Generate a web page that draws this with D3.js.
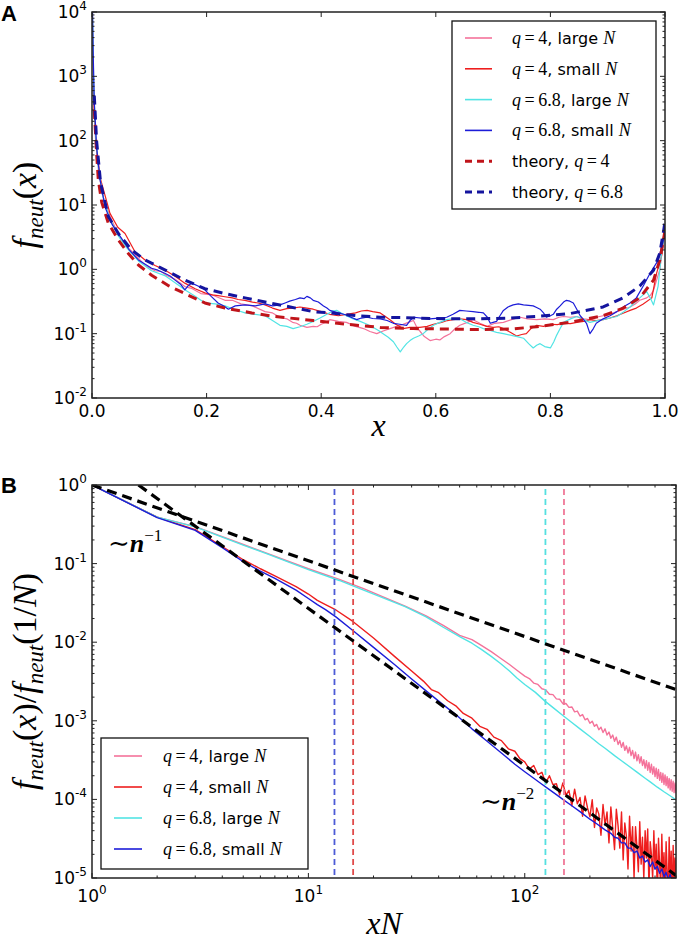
<!DOCTYPE html>
<meta charset="utf-8" />
<style>
  body {
    margin: 0px;
    padding: 0px;
    background: #fff;
  }
  svg {
    display: block;
  }
  .frame {
    fill: none;
    stroke: #222;
    stroke-width: 1.5px;
  }
  .tk {
    stroke: #222;
    stroke-width: 1px;
  }
  .ticklabel {
    font-family: "DejaVu Sans", sans-serif;
    font-size: 17px;
    fill: #000;
  }
  .leg {
    font-family: "DejaVu Sans", sans-serif;
    font-size: 16px;
    fill: #000;
  }
  .mi {
    font-family: "Liberation Serif", "DejaVu Serif", serif;
    font-style: italic;
  }
  .mr {
    font-family: "Liberation Serif", "DejaVu Serif", serif;
  }
</style>

<svg width="680" height="944"></svg>

<script src="https://d3js.org/d3.v7.min.js"></script>
<script>
  // ---- panel A data: f_neut(x) vs x ----
  const pinkA = [
    [0.001, 5000], [0.003, 500], [0.006, 110], [0.012, 30], [0.02, 13], [0.03, 7.2], [0.045, 3.6],
    [0.06, 2.3], [0.075, 1.7], [0.0925, 1.15], [0.11, 0.95], [0.12, 0.93], [0.13, 0.8], [0.145, 0.7],
    [0.162, 0.54], [0.175, 0.5], [0.19, 0.42], [0.21, 0.4], [0.232, 0.33], [0.245, 0.33], [0.26, 0.29],
    [0.28, 0.27], [0.302, 0.22], [0.315, 0.21], [0.328, 0.18], [0.34, 0.17], [0.35, 0.15], [0.357, 0.145],
    [0.363, 0.135], [0.375, 0.125], [0.386, 0.13], [0.393, 0.128], [0.4, 0.14], [0.408, 0.15],
    [0.415, 0.165], [0.43, 0.155], [0.444, 0.15], [0.46, 0.13], [0.474, 0.12], [0.485, 0.108],
    [0.497, 0.1], [0.508, 0.11], [0.52, 0.12], [0.532, 0.13], [0.543, 0.14], [0.552, 0.15], [0.561, 0.16],
    [0.566, 0.13], [0.572, 0.11], [0.58, 0.09], [0.59, 0.078], [0.6, 0.082], [0.607, 0.08], [0.615, 0.09],
    [0.625, 0.1], [0.633, 0.118], [0.642, 0.135], [0.655, 0.15], [0.665, 0.165], [0.677, 0.145],
    [0.689, 0.13], [0.703, 0.145], [0.718, 0.15], [0.732, 0.165], [0.747, 0.18], [0.76, 0.17],
    [0.776, 0.165], [0.79, 0.17], [0.805, 0.165], [0.815, 0.18], [0.823, 0.185], [0.835, 0.18],
    [0.846, 0.185], [0.858, 0.17], [0.869, 0.165], [0.88, 0.18], [0.892, 0.19], [0.904, 0.2],
    [0.916, 0.22], [0.928, 0.24], [0.939, 0.26], [0.948, 0.29], [0.956, 0.33], [0.968, 0.36],
    [0.975, 0.4], [0.98, 0.47], [0.991, 1.0], [0.997, 2.8], [0.999, 4.0]
  ];
  const redA = [
    [0.002, 700], [0.004, 250], [0.008, 70], [0.015, 25], [0.0314, 7.4], [0.045, 4.5], [0.0576, 3.6],
    [0.075, 1.88], [0.0925, 1.4], [0.11, 1.15], [0.127, 0.98], [0.145, 0.78], [0.162, 0.61], [0.18, 0.5],
    [0.197, 0.43], [0.21, 0.4], [0.22, 0.39], [0.232, 0.375], [0.245, 0.36], [0.255, 0.34], [0.267, 0.33],
    [0.28, 0.31], [0.29, 0.3], [0.302, 0.28], [0.315, 0.25], [0.328, 0.23], [0.34, 0.245], [0.35, 0.25],
    [0.363, 0.26], [0.375, 0.25], [0.386, 0.24], [0.4, 0.22], [0.415, 0.2], [0.43, 0.19], [0.444, 0.2],
    [0.46, 0.21], [0.47, 0.225], [0.48, 0.23], [0.49, 0.22], [0.503, 0.21], [0.51, 0.19], [0.52, 0.165],
    [0.53, 0.14], [0.543, 0.12], [0.555, 0.125], [0.572, 0.125], [0.585, 0.13], [0.596, 0.14],
    [0.61, 0.15], [0.62, 0.16], [0.63, 0.165], [0.642, 0.17], [0.654, 0.165], [0.665, 0.15],
    [0.677, 0.14], [0.689, 0.13], [0.7, 0.125], [0.71, 0.128], [0.718, 0.12], [0.73, 0.105],
    [0.741, 0.092], [0.75, 0.097], [0.758, 0.1], [0.766, 0.12], [0.776, 0.135], [0.788, 0.13],
    [0.8, 0.14], [0.812, 0.138], [0.823, 0.145], [0.835, 0.143], [0.846, 0.15], [0.858, 0.155],
    [0.869, 0.165], [0.88, 0.16], [0.892, 0.165], [0.904, 0.175], [0.916, 0.19], [0.928, 0.21],
    [0.939, 0.23], [0.95, 0.25], [0.962, 0.29], [0.977, 0.36], [0.985, 0.85], [0.994, 1.6], [0.999, 3.5]
  ];
  const cyanA = [
    [0.001, 8000], [0.003, 700], [0.006, 130], [0.012, 32], [0.02, 13], [0.03, 6.5], [0.045, 3.4],
    [0.06, 2.2], [0.081, 1.35], [0.104, 0.95], [0.127, 0.8], [0.145, 0.62], [0.162, 0.48], [0.18, 0.38],
    [0.197, 0.3], [0.215, 0.29], [0.232, 0.27], [0.25, 0.235], [0.267, 0.21], [0.285, 0.2], [0.302, 0.19],
    [0.315, 0.16], [0.328, 0.135], [0.34, 0.13], [0.351, 0.12], [0.363, 0.128], [0.375, 0.14],
    [0.386, 0.155], [0.398, 0.175], [0.41, 0.2], [0.42, 0.225], [0.427, 0.23], [0.435, 0.21],
    [0.444, 0.19], [0.456, 0.17], [0.468, 0.155], [0.48, 0.14], [0.491, 0.125], [0.5, 0.112],
    [0.508, 0.1], [0.517, 0.088], [0.526, 0.075], [0.532, 0.062], [0.538, 0.052], [0.544, 0.062],
    [0.549, 0.07], [0.555, 0.078], [0.561, 0.085], [0.57, 0.092], [0.578, 0.1], [0.587, 0.118],
    [0.596, 0.135], [0.607, 0.15], [0.619, 0.165], [0.63, 0.172], [0.642, 0.17], [0.653, 0.15],
    [0.665, 0.135], [0.675, 0.128], [0.683, 0.12], [0.695, 0.112], [0.706, 0.105], [0.718, 0.1],
    [0.73, 0.095], [0.742, 0.09], [0.753, 0.085], [0.762, 0.07], [0.77, 0.06], [0.776, 0.066],
    [0.782, 0.07], [0.79, 0.063], [0.8, 0.06], [0.806, 0.075], [0.811, 0.095], [0.817, 0.12],
    [0.823, 0.15], [0.835, 0.17], [0.846, 0.185], [0.858, 0.165], [0.869, 0.15], [0.88, 0.158],
    [0.892, 0.165], [0.904, 0.175], [0.916, 0.185], [0.928, 0.22], [0.939, 0.26], [0.948, 0.31],
    [0.956, 0.36], [0.968, 0.45], [0.975, 0.35], [0.98, 0.28], [0.988, 0.55], [0.994, 1.8], [0.999, 3.5]
  ];
  const blueA = [
    [0.001, 10000], [0.002, 2500], [0.004, 400], [0.008, 80], [0.014, 25], [0.0227, 9.3], [0.035, 5],
    [0.0518, 3.0], [0.065, 2.0], [0.081, 1.4], [0.104, 1.04], [0.115, 0.97], [0.127, 0.87], [0.137, 0.78],
    [0.145, 0.68], [0.155, 0.58], [0.162, 0.48], [0.168, 0.56], [0.174, 0.61], [0.185, 0.55],
    [0.197, 0.48], [0.208, 0.38], [0.22, 0.3], [0.23, 0.27], [0.238, 0.24], [0.25, 0.27], [0.267, 0.28],
    [0.285, 0.27], [0.302, 0.29], [0.315, 0.27], [0.328, 0.28], [0.337, 0.3], [0.345, 0.32], [0.355, 0.34],
    [0.363, 0.36], [0.37, 0.35], [0.375, 0.38], [0.381, 0.36], [0.386, 0.33], [0.395, 0.31],
    [0.404, 0.27], [0.41, 0.25], [0.415, 0.23], [0.43, 0.21], [0.444, 0.195], [0.452, 0.18],
    [0.462, 0.165], [0.47, 0.175], [0.48, 0.18], [0.49, 0.172], [0.503, 0.17], [0.515, 0.16],
    [0.526, 0.145], [0.537, 0.14], [0.549, 0.135], [0.555, 0.16], [0.561, 0.18], [0.575, 0.175],
    [0.59, 0.17], [0.605, 0.175], [0.619, 0.18], [0.63, 0.2], [0.642, 0.23], [0.653, 0.225],
    [0.665, 0.22], [0.675, 0.215], [0.683, 0.21], [0.69, 0.18], [0.695, 0.145], [0.7, 0.15],
    [0.706, 0.155], [0.712, 0.19], [0.718, 0.23], [0.726, 0.26], [0.735, 0.28], [0.744, 0.29],
    [0.753, 0.28], [0.762, 0.275], [0.77, 0.27], [0.776, 0.255], [0.782, 0.24], [0.788, 0.21],
    [0.793, 0.18], [0.8, 0.19], [0.805, 0.2], [0.811, 0.24], [0.817, 0.27], [0.823, 0.31], [0.828, 0.33],
    [0.834, 0.32], [0.84, 0.3], [0.846, 0.24], [0.852, 0.19], [0.858, 0.165], [0.863, 0.145],
    [0.869, 0.1], [0.875, 0.12], [0.88, 0.145], [0.892, 0.17], [0.904, 0.19], [0.916, 0.22],
    [0.927, 0.26], [0.939, 0.3], [0.95, 0.36], [0.962, 0.55], [0.974, 0.87], [0.988, 1.38],
    [0.997, 2.8], [0.999, 4.6]
  ];
  const theoryA4 = [
    [0.004, 300], [0.008, 65], [0.011, 24.5], [0.017, 11], [0.0285, 5.2], [0.046, 2.86], [0.063, 1.78],
    [0.081, 1.17], [0.104, 0.81], [0.133, 0.56], [0.162, 0.42], [0.197, 0.3], [0.232, 0.25], [0.279, 0.21],
    [0.319, 0.185], [0.386, 0.16], [0.444, 0.14], [0.503, 0.125], [0.561, 0.12], [0.619, 0.118],
    [0.67, 0.116], [0.73, 0.118], [0.776, 0.128], [0.834, 0.15], [0.892, 0.19], [0.927, 0.25],
    [0.956, 0.36], [0.98, 0.68], [0.991, 1.4], [0.997, 2.8], [1.0, 4.0]
  ];
  const theoryA68 = [
    [0.004, 500], [0.008, 100], [0.015, 22], [0.0285, 6.6], [0.046, 3.6], [0.069, 2.0], [0.0925, 1.4],
    [0.127, 0.98], [0.162, 0.68], [0.197, 0.5], [0.232, 0.42], [0.267, 0.36], [0.302, 0.31],
    [0.346, 0.26], [0.386, 0.22], [0.415, 0.21], [0.462, 0.19], [0.503, 0.18], [0.543, 0.178],
    [0.59, 0.172], [0.648, 0.17], [0.677, 0.17], [0.73, 0.175], [0.776, 0.185], [0.834, 0.205],
    [0.892, 0.26], [0.927, 0.36], [0.956, 0.55], [0.98, 0.97], [0.991, 1.8], [0.998, 4.2], [1.0, 5.5]
  ];

  // ---- panel B data: f_neut(x)/f_neut(1/N) vs xN ----
  const pinkB = [
    [1, 1], [2, 0.39], [3, 0.295], [4, 0.22], [5, 0.175], [6.5, 0.134], [8, 0.108], [10, 0.086],
    [13.9, 0.063], [18, 0.048], [22, 0.038], [28, 0.0287], [35, 0.0216], [42, 0.0164], [50, 0.0122],
    [57, 0.0108], [63, 0.0091], [70, 0.0076], [77, 0.0063], [85, 0.0052], [92, 0.0044], [100, 0.0037],
    [105, 0.00345], [110, 0.00302], [115, 0.0029], [120, 0.00256], [125, 0.00247], [130, 0.00218],
    [135, 0.00215], [140, 0.0019], [145, 0.00188], [150, 0.00165], [155, 0.00166], [160, 0.00148],
    [165, 0.0015], [170, 0.0013], [175, 0.00133], [180, 0.00115], [185, 0.0012], [190, 0.00103],
    [195, 0.00107], [200, 0.00093], [205, 0.00099], [210, 0.00085], [215, 0.0009], [220, 0.00077],
    [225, 0.00083], [230, 0.00071], [235, 0.00079], [240, 0.00066], [245, 0.00072], [250, 0.0006],
    [255, 0.00066], [260, 0.00055], [265, 0.00062], [270, 0.0005], [275, 0.00056], [280, 0.00046],
    [285, 0.00053], [290, 0.00042], [295, 0.00048], [300, 0.00039], [305, 0.00046], [310, 0.00036],
    [315, 0.00042], [320, 0.00033], [325, 0.0004], [330, 0.00031], [335, 0.00037], [340, 0.00029],
    [345, 0.00035], [350, 0.00027], [355, 0.00032], [360, 0.00025], [365, 0.00031], [370, 0.000235],
    [375, 0.000295], [380, 0.00022], [385, 0.00028], [390, 0.00021], [395, 0.00026], [400, 0.000195],
    [405, 0.00025], [410, 0.000185], [415, 0.00024], [420, 0.000175], [425, 0.00022], [430, 0.000165],
    [435, 0.000215], [440, 0.000155], [445, 0.000205], [450, 0.00015], [455, 0.000195], [460, 0.00014],
    [465, 0.000185], [470, 0.000132], [475, 0.000178], [480, 0.000127], [485, 0.00017], [490, 0.000122],
    [495, 0.000162], [500, 0.00012]
  ];
  const redB = [
    [1, 1], [2, 0.39], [3, 0.27], [4, 0.165], [5, 0.112], [6, 0.086], [7, 0.07], [8.77, 0.051],
    [10, 0.041], [11, 0.034], [12, 0.03], [13.4, 0.0257], [16, 0.0185], [20, 0.0113], [25, 0.0066],
    [30, 0.0043], [34, 0.0032], [37, 0.0025], [40, 0.00228], [44, 0.0018], [48, 0.00155], [52, 0.00124],
    [57, 0.00108], [62, 0.00085], [67, 0.00078], [72, 0.00062], [78, 0.00056], [84, 0.00044],
    [90, 0.00041], [95, 0.00033], [100, 0.0003], [105, 0.000243], [110, 0.00027], [115, 0.000207],
    [120, 0.000221], [125, 0.000162], [130, 0.0002], [135, 0.000154], [140, 0.000158], [145, 0.000114],
    [150, 0.000162], [155, 0.000113], [160, 0.00013], [165, 0.000083], [170, 0.000135], [175, 0.000088],
    [180, 0.000106], [185, 0.000061], [190, 0.000111], [195, 0.000078], [200, 0.00006], [205, 0.000099],
    [210, 0.000044], [215, 0.000078], [220, 0.000065], [225, 0.000035], [230, 0.000086], [235, 0.000047],
    [240, 0.000069], [245, 0.000028], [250, 0.00008], [255, 0.000043], [260, 0.000023], [265, 0.000075],
    [270, 0.000046], [275, 0.000024], [280, 0.000069], [285, 0.000017], [290, 0.00005], [295, 0.000034],
    [300, 0.000013], [305, 0.000061], [310, 0.000022], [315, 0.000045], [320, 0.00001], [325, 0.000045],
    [330, 0.000025], [335, 0.000012], [340, 0.000052], [345, 0.000015], [350, 0.000033], [355, 0.0000097],
    [360, 0.00004], [365, 0.000018], [370, 0.000042], [375, 0.0000074], [380, 0.000029], [385, 0.00002],
    [390, 0.0000098], [395, 0.00004], [400, 0.000013], [405, 0.000027], [410, 0.0000054], [415, 0.000032],
    [420, 0.000015], [425, 0.0000076], [430, 0.000036], [435, 0.0000097], [440, 0.000021],
    [445, 0.0000055], [450, 0.000029], [455, 0.000012], [460, 0.0000059], [465, 0.000033],
    [470, 0.0000077], [475, 0.000022], [480, 0.000004], [485, 0.000026], [490, 0.0000088],
    [495, 0.000018], [500, 0.0000048]
  ];
  const cyanB = [
    [1, 1], [2, 0.39], [3, 0.293], [4, 0.217], [5, 0.172], [6.5, 0.132], [8, 0.106], [10, 0.084],
    [13.9, 0.061], [18, 0.046], [22, 0.037], [28, 0.0283], [35, 0.021], [42, 0.0155], [50, 0.0118],
    [57, 0.0097], [63, 0.0081], [70, 0.0066], [77, 0.0054], [85, 0.0043], [92, 0.0035], [100, 0.0029],
    [112, 0.0023], [124, 0.00178], [137, 0.00143], [150, 0.00117], [165, 0.00095], [180, 0.00079],
    [200, 0.00063], [220, 0.00051], [235, 0.000447], [260, 0.00036], [280, 0.00031], [300, 0.00027],
    [330, 0.000222], [360, 0.000186], [380, 0.000167], [410, 0.000143], [440, 0.000125],
    [477, 0.000108], [500, 0.0000985]
  ];
  const blueB = [
    [1, 1], [2, 0.385], [3, 0.265], [4, 0.16], [5, 0.106], [6, 0.08], [7, 0.065], [8.77, 0.046],
    [10, 0.036], [11, 0.03], [12, 0.026], [13.4, 0.021], [16, 0.0142], [20, 0.0086], [25, 0.0052],
    [30, 0.0034], [35, 0.0024], [40, 0.00178], [48, 0.0012], [57, 0.00079], [67, 0.00055], [78, 0.00039],
    [90, 0.00028], [100, 0.000225], [110, 0.000186], [120, 0.000156], [130, 0.000133], [140, 0.000115],
    [150, 0.0001], [165, 0.000083], [180, 0.00007], [200, 0.000056], [215, 0.000049], [235, 0.000041],
    [250, 0.000037], [260, 0.000033], [270, 0.000032], [280, 0.000028], [290, 0.000028], [300, 0.000024],
    [310, 0.000024], [320, 0.000021], [330, 0.000022], [340, 0.000018], [350, 0.000019], [360, 0.000016],
    [370, 0.000017], [380, 0.000014], [390, 0.000016], [400, 0.000013], [410, 0.000014],
    [420, 0.0000115], [430, 0.000013], [440, 0.0000105], [450, 0.0000118], [460, 0.0000095],
    [470, 0.000011], [480, 0.0000088], [490, 0.00001], [500, 0.0000082]
  ];
  // power-law guide lines (end points)
  const guideN1 = [[1, 1], [500, 0.0025]];
  const guideN2 = [[1.64, 1], [500, 0.0000108]];
  // cut-off markers
  const cutoffB = [13.2, 16.1, 124.6, 151.8];
  const cutoffColors = ["#4d5bd6", "#e04a4a", "#55e0e0", "#f07898"];

  const ticksAx = [0, 0.2, 0.4, 0.6, 0.8, 1.0];
  const ticksAy = [-2, -1, 0, 1, 2, 3, 4];
  const ticksBx = [0, 1, 2];
  const ticksBy = [-5, -4, -3, -2, -1, 0];

  const colPink = "#f4729a",
    colRed = "#ee1e1e",
    colCyan = "#52e4e4",
    colBlue = "#1c1cd8",
    colTh4 = "#c0141a",
    colTh68 = "#14149e";

  const svg = d3.select("svg");

  const A = { left: 92, right: 665, top: 12, bottom: 398 };
  const B = { left: 92, right: 676, top: 485, bottom: 878 };

  const xA = d3.scaleLinear().domain([0, 1]).range([A.left, A.right]);
  const yA = d3.scaleLog().domain([1e-2, 1e4]).range([A.bottom, A.top]);
  const xB = d3.scaleLog().domain([1, 500]).range([B.left, B.right]);
  const yB = d3.scaleLog().domain([1e-5, 1]).range([B.bottom, B.top]);

  const defs = svg.append("defs");
  [["clipA", A], ["clipB", B]].forEach(([id, b]) => {
    defs
      .append("clipPath")
      .attr("id", id)
      .append("rect")
      .attr("x", b.left)
      .attr("y", b.top)
      .attr("width", b.right - b.left)
      .attr("height", b.bottom - b.top);
  });

  function tick(x1, y1, x2, y2) {
    svg.append("line").attr("class", "tk").attr("x1", x1).attr("y1", y1).attr("x2", x2).attr("y2", y2);
  }

  // "10" with a raised exponent
  function powLabel(x, y, e, anchor) {
    const t = svg.append("text").attr("class", "ticklabel").attr("x", x).attr("y", y).attr("text-anchor", anchor);
    t.append("tspan").text("10");
    t.append("tspan").attr("dy", -8).attr("font-size", 12).text(e);
    return t;
  }

  // ---------------- panel A ----------------
  const gA = svg.append("g").attr("clip-path", "url(#clipA)");
  const lineA = d3
    .line()
    .x((d) => xA(d[0]))
    .y((d) => yA(d[1]));

  const seriesA = [
    { data: pinkA, color: colPink, w: 1.2 },
    { data: redA, color: colRed, w: 1.2 },
    { data: cyanA, color: colCyan, w: 1.2 },
    { data: blueA, color: colBlue, w: 1.2 },
    { data: theoryA4, color: colTh4, w: 3, dash: "9,6" },
    { data: theoryA68, color: colTh68, w: 3, dash: "9,6" }
  ];
  seriesA.forEach((s) => {
    gA.append("path")
      .attr("d", lineA(s.data))
      .attr("fill", "none")
      .attr("stroke", s.color)
      .attr("stroke-width", s.w)
      .attr("stroke-dasharray", s.dash || null)
      .attr("stroke-linejoin", "round");
  });

  // ticks A
  yA.ticks().forEach((v) => {
    const major = Math.abs(Math.log10(v) - Math.round(Math.log10(v))) < 1e-9;
    const len = major ? 5 : 2.5;
    tick(A.left, yA(v), A.left + len, yA(v));
    tick(A.right, yA(v), A.right - len, yA(v));
  });
  ticksAy.forEach((e) => powLabel(A.left - 5, yA(Math.pow(10, e)) + 6, e < 0 ? "-" + -e : e, "end"));
  ticksAx.forEach((v) => {
    tick(xA(v), A.bottom, xA(v), A.bottom - 5);
    tick(xA(v), A.top, xA(v), A.top + 5);
    svg
      .append("text")
      .attr("class", "ticklabel")
      .attr("x", xA(v))
      .attr("y", A.bottom + 19)
      .attr("text-anchor", "middle")
      .text(v.toFixed(1));
  });
  svg
    .append("rect")
    .attr("class", "frame")
    .attr("x", A.left)
    .attr("y", A.top)
    .attr("width", A.right - A.left)
    .attr("height", A.bottom - A.top);

  // ---------------- panel B ----------------
  const gB = svg.append("g").attr("clip-path", "url(#clipB)");
  const lineB = d3
    .line()
    .x((d) => xB(d[0]))
    .y((d) => yB(d[1]));

  [
    { data: pinkB, color: colPink },
    { data: redB, color: colRed },
    { data: cyanB, color: colCyan },
    { data: blueB, color: colBlue }
  ].forEach((s) => {
    gB.append("path")
      .attr("d", lineB(s.data))
      .attr("fill", "none")
      .attr("stroke", s.color)
      .attr("stroke-width", 1.4)
      .attr("stroke-linejoin", "round");
  });

  cutoffB.forEach((n, i) => {
    gB.append("line")
      .attr("x1", xB(n))
      .attr("x2", xB(n))
      .attr("y1", B.top + 4)
      .attr("y2", B.bottom)
      .attr("stroke", cutoffColors[i])
      .attr("stroke-width", 1.8)
      .attr("stroke-dasharray", "6,4");
  });

  [guideN1, guideN2].forEach((g) => {
    gB.append("path")
      .attr("d", lineB(g))
      .attr("fill", "none")
      .attr("stroke", "#000")
      .attr("stroke-width", 3.2)
      .attr("stroke-dasharray", "10,6");
  });

  // ticks B
  yB.ticks().forEach((v) => {
    const major = Math.abs(Math.log10(v) - Math.round(Math.log10(v))) < 1e-9;
    const len = major ? 5 : 2.5;
    tick(B.left, yB(v), B.left + len, yB(v));
    tick(B.right, yB(v), B.right - len, yB(v));
  });
  xB.ticks().forEach((v) => {
    const major = Math.abs(Math.log10(v) - Math.round(Math.log10(v))) < 1e-9;
    const len = major ? 5 : 2.5;
    tick(xB(v), B.bottom, xB(v), B.bottom - len);
    tick(xB(v), B.top, xB(v), B.top + len);
  });
  ticksBy.forEach((e) => powLabel(B.left - 5, yB(Math.pow(10, e)) + 6, e < 0 ? "-" + -e : e, "end"));
  ticksBx.forEach((e) => powLabel(xB(Math.pow(10, e)), B.bottom + 24, e, "middle"));
  svg
    .append("rect")
    .attr("class", "frame")
    .attr("x", B.left)
    .attr("y", B.top)
    .attr("width", B.right - B.left)
    .attr("height", B.bottom - B.top);

  // ---------------- labels ----------------
  function panelLetter(t, x, y) {
    svg
      .append("text")
      .attr("x", x)
      .attr("y", y)
      .attr("font-family", "Liberation Sans, Arial, sans-serif")
      .attr("font-weight", "bold")
      .attr("font-size", 22)
      .text(t);
  }
  panelLetter("A", 1, 21);
  panelLetter("B", 1, 493);

  // f_neut(...) math label
  function fneut(t, arg) {
    t.append("tspan").attr("class", "mi").text("f");
    t.append("tspan").attr("class", "mi").attr("font-size", 23).attr("dy", 7).text("neut");
    t.append("tspan").attr("class", "mr").attr("dy", -7).text("(");
    arg.forEach((p) => t.append("tspan").attr("class", p[0]).text(p[1]));
    t.append("tspan").attr("class", "mr").text(")");
  }
  const ylabA = svg
    .append("text")
    .attr("transform", `translate(36,${(A.top + A.bottom) / 2}) rotate(-90)`)
    .attr("text-anchor", "middle")
    .attr("font-size", 34);
  fneut(ylabA, [["mi", "x"]]);

  const ylabB = svg
    .append("text")
    .attr("transform", `translate(36,${(B.top + B.bottom) / 2}) rotate(-90)`)
    .attr("text-anchor", "middle")
    .attr("font-size", 34);
  fneut(ylabB, [["mi", "x"]]);
  ylabB.append("tspan").attr("class", "mr").text("/");
  fneut(ylabB, [["mr", "1/"], ["mi", "N"]]);

  svg
    .append("text")
    .attr("class", "mi")
    .attr("x", (A.left + A.right) / 2)
    .attr("y", 436)
    .attr("text-anchor", "middle")
    .attr("font-size", 32)
    .text("x");
  svg
    .append("text")
    .attr("class", "mi")
    .attr("x", (B.left + B.right) / 2)
    .attr("y", 934)
    .attr("text-anchor", "middle")
    .attr("font-size", 32)
    .text("xN");

  // scaling annotations
  function slopeNote(x, y, e) {
    const t = svg.append("text").attr("x", x).attr("y", y).attr("font-size", 26);
    t.append("tspan").attr("font-family", "DejaVu Serif, serif").text("\u223C");
    t.append("tspan").attr("class", "mi").attr("font-weight", "bold").text("n");
    t.append("tspan").attr("class", "mr").attr("font-size", 17).attr("dy", -11).text("\u2212" + e);
  }
  slopeNote(108, 552, 1);
  slopeNote(480, 810, 2);

  // ---------------- legends ----------------
  const legLabels = [
    [["mi", "q"], ["mr", "\u2009=\u20094"], ["s", ", large "], ["mi", "N"]],
    [["mi", "q"], ["mr", "\u2009=\u20094"], ["s", ", small "], ["mi", "N"]],
    [["mi", "q"], ["mr", "\u2009=\u20096.8"], ["s", ", large "], ["mi", "N"]],
    [["mi", "q"], ["mr", "\u2009=\u20096.8"], ["s", ", small "], ["mi", "N"]],
    [["s", "theory, "], ["mi", "q"], ["mr", "\u2009=\u20094"]],
    [["s", "theory, "], ["mi", "q"], ["mr", "\u2009=\u20096.8"]]
  ];

  function legend(box, rows, y0, dy, lineX, textX) {
    svg
      .append("rect")
      .attr("x", box[0])
      .attr("y", box[1])
      .attr("width", box[2])
      .attr("height", box[3])
      .attr("fill", "#fff")
      .attr("stroke", "#111")
      .attr("stroke-width", 1.3);
    rows.forEach((r, i) => {
      const y = y0 + i * dy;
      svg
        .append("line")
        .attr("x1", lineX[0])
        .attr("x2", lineX[1])
        .attr("y1", y)
        .attr("y2", y)
        .attr("stroke", r.color)
        .attr("stroke-width", r.dash ? 3 : 1.6)
        .attr("stroke-dasharray", r.dash ? "7,5" : null);
      const t = svg.append("text").attr("class", "leg").attr("x", textX).attr("y", y + 6);
      r.label.forEach((p) => {
        const ts = t.append("tspan").text(p[1]);
        if (p[0] !== "s") ts.attr("class", p[0]).attr("font-size", 18);
      });
    });
  }

  legend(
    [452, 21, 204, 188],
    [
      { color: colPink, label: legLabels[0] },
      { color: colRed, label: legLabels[1] },
      { color: colCyan, label: legLabels[2] },
      { color: colBlue, label: legLabels[3] },
      { color: colTh4, label: legLabels[4], dash: true },
      { color: colTh68, label: legLabels[5], dash: true }
    ],
    38,
    30.8,
    [465, 492],
    512
  );
  legend(
    [101, 738, 207, 131],
    [
      { color: colPink, label: legLabels[0] },
      { color: colRed, label: legLabels[1] },
      { color: colCyan, label: legLabels[2] },
      { color: colBlue, label: legLabels[3] }
    ],
    756,
    31,
    [114, 142],
    163
  );
</script>
